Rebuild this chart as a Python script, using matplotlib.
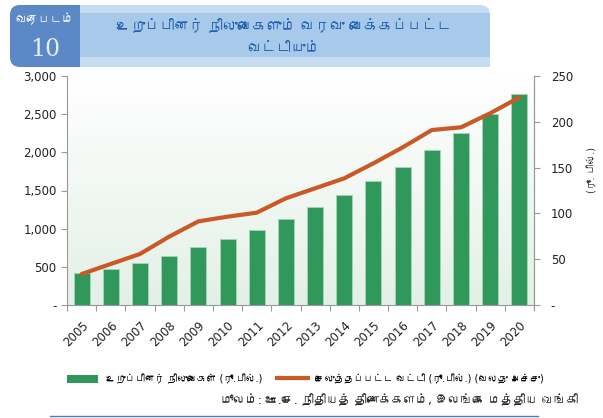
import matplotlib
matplotlib.use('Agg')
import matplotlib.pyplot as plt
import numpy as np
from matplotlib import font_manager, ft2font
from matplotlib.patches import FancyBboxPatch, Rectangle, Patch
from matplotlib.lines import Line2D
from matplotlib.colors import LinearSegmentedColormap

# find a font that can draw Tamil, if there is one
tamil_font = None
for f in font_manager.fontManager.ttflist:
    try:
        if 0x0B89 in ft2font.FT2Font(f.fname).get_charmap():
            tamil_font = f.name
            break
    except Exception:
        pass
fams = ['DejaVu Sans', tamil_font] if tamil_font else ['DejaVu Sans']
plt.rcParams['font.family'] = fams

years = ['2005', '2006', '2007', '2008', '2009', '2010', '2011', '2012',
         '2013', '2014', '2015', '2016', '2017', '2018', '2019', '2020']
arrears = [415, 476, 550, 642, 756, 869, 987, 1127,
           1284, 1445, 1624, 1812, 2027, 2257, 2502, 2768]
interest = [33.8, 44.8, 55.7, 74.6, 91.3, 96.4, 100.8, 116.5,
            127.4, 138.3, 154.7, 172.1, 191.0, 194.0, 209.3, 226.7]

left_ticks = [0, 500, 1000, 1500, 2000, 2500, 3000]
left_labels = ['-', '500', '1,000', '1,500', '2,000', '2,500', '3,000']
right_ticks = [0, 50, 100, 150, 200, 250]
right_labels = ['-', '50', '100', '150', '200', '250']

title1 = 'உறுப்பினர் நிலுவைகளும் வரவு வைக்கப்பட்ட'
title2 = 'வட்டியும்'
box_word = 'வரைபடம்'
box_num = '10'
bar_label = 'உறுப்பினர் நிலுவைகள் (ரூ.பில்.)'
line_label = 'செலுத்தப்பட்ட வட்டி (ரூ.பில்.) (வலது அச்சு)'
right_unit = '(ரூ. பில்.)'
source = 'மூலம்: ஊ.சே. நிதியத் திணைக்களம், இலங்கை மத்திய வங்கி'

W, H = 603, 418
fig = plt.figure(figsize=(W / 100, H / 100), dpi=100)

# banner drawn in pixel coordinates
bg = fig.add_axes([0, 0, 1, 1])
bg.set_xlim(0, W)
bg.set_ylim(H, 0)
bg.axis('off')
bg.add_patch(FancyBboxPatch((60, 5), 430, 62, boxstyle='round,pad=0,rounding_size=10',
                            fc='#c6dcf0', ec='none'))
bg.add_patch(Rectangle((60, 40), 430, 27, fc='#c6dcf0', ec='none'))
bg.add_patch(Rectangle((80, 13), 410, 44, fc='#a8caea', ec='none'))
bg.add_patch(FancyBboxPatch((10, 5), 80, 62, boxstyle='round,pad=0,rounding_size=10',
                            fc='#5b88c6', ec='none'))
bg.add_patch(Rectangle((80, 5), 10, 62, fc='#a8caea', ec='none'))
bg.add_patch(Rectangle((80, 5), 10, 8, fc='#c6dcf0', ec='none'))
bg.add_patch(Rectangle((80, 57), 10, 10, fc='#c6dcf0', ec='none'))
bg.text(45, 20, box_word, color='white', fontsize=8.5, ha='center', va='center')
bg.text(45, 49, box_num, color='#e6edf7', fontsize=17, ha='center', va='center',
        family='DejaVu Serif')
bg.text(284, 27, title1, color='#1f5fae', fontsize=10.5, ha='center', va='center')
bg.text(284, 49, title2, color='#1f5fae', fontsize=10.5, ha='center', va='center')
bg.plot([50, 538], [416, 416], color='#4a7cc0', lw=1)
bg.text(592, 170, right_unit, fontsize=7, rotation=90, ha='center', va='center', color='#333333')
bg.text(578, 401, source, fontsize=8.8, ha='right', va='center', color='#222222')

ax = fig.add_axes([67 / W, 1 - 305 / H, 467 / W, 229 / H])
ax.patch.set_visible(False)
x = np.arange(len(years))
grad = np.linspace(0, 1, 100).reshape(-1, 1)
cm = LinearSegmentedColormap.from_list('g', ['#ffffff', '#e3f0e6'])
ax.imshow(grad, extent=(-0.5, 15.5, 0, 3000), aspect='auto', cmap=cm, zorder=0, origin='upper')
ax.bar(x, arrears, width=0.55, color='#30985a', edgecolor='#a9d4b8', linewidth=0.6, zorder=2)
ax.set_xlim(-0.5, 15.5)
ax.set_ylim(0, 3000)
ax.set_yticks(left_ticks)
ax.set_yticklabels(left_labels)
ax.set_xticks(np.arange(-0.5, 16, 1))
ax.set_xticklabels([])
ax.set_xticks(x, minor=True)
ax.set_xticklabels(years, minor=True, rotation=45, ha='right', va='top',
                   rotation_mode='anchor', fontsize=8.5, color='#222222')
ax.tick_params(axis='x', which='minor', length=0, pad=10)
ax.tick_params(axis='x', which='major', length=4, color='#999999')
ax.tick_params(axis='y', length=4, color='#999999', labelsize=8.5, labelcolor='#222222')
ax.spines['top'].set_visible(False)
for s in ['left', 'bottom', 'right']:
    ax.spines[s].set_color('#999999')

ax2 = ax.twinx()
ax2.plot(x, interest, color='#c95a27', lw=3, solid_joinstyle='round',
         solid_capstyle='round', zorder=3)
ax2.set_ylim(0, 250)
ax2.set_yticks(right_ticks)
ax2.set_yticklabels(right_labels)
ax2.tick_params(axis='y', length=4, color='#999999', labelsize=8.5, labelcolor='#222222', pad=8)
ax2.spines['top'].set_visible(False)
ax2.spines['right'].set_color('#999999')
ax2.spines['left'].set_visible(False)
ax2.spines['bottom'].set_visible(False)

handles = [Patch(facecolor='#30985a', edgecolor='none'),
           Line2D([], [], color='#c95a27', lw=3)]
fig.legend(handles, [bar_label, line_label], ncol=2, frameon=False,
           loc='center left', bbox_to_anchor=(58 / W, 1 - 379 / H),
           fontsize=7, handlelength=3.2, handleheight=0.9, columnspacing=1.5,
           handletextpad=0.8)

fig.savefig('out.png', dpi=100)
